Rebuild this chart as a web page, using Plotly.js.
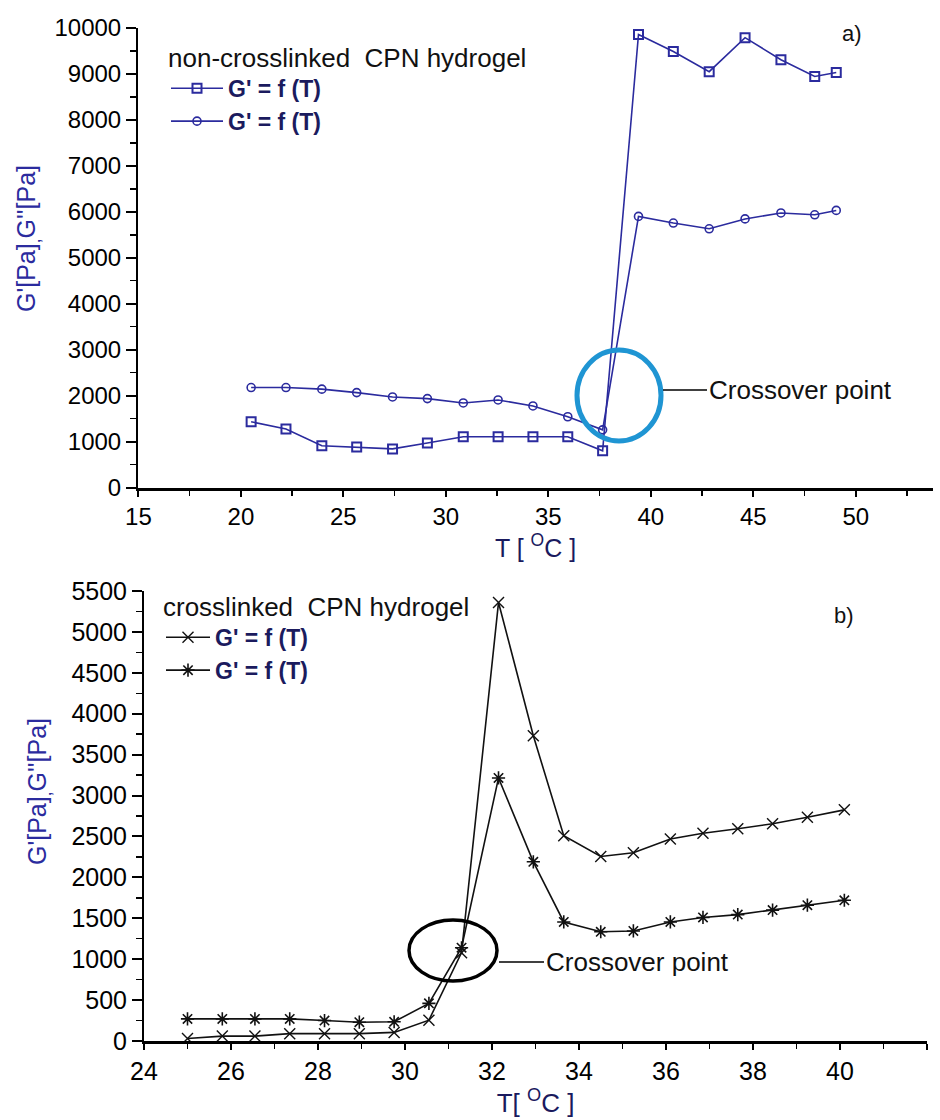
<!DOCTYPE html>
<html>
<head>
<meta charset="utf-8">
<script src="https://cdn.plot.ly/plotly-3.0.1.min.js"></script>
<style>html,body{margin:0;padding:0;background:#fff;}#chart{width:940px;height:1120px;}</style>
</head>
<body>
<div id="chart"></div>
<script>
// ---- panel a) non-crosslinked CPN hydrogel ----
const tempA = [20.5, 22.2, 23.95, 25.65, 27.4, 29.1, 30.85, 32.55, 34.25, 35.95, 37.65, 39.4, 41.1, 42.85, 44.6, 46.35, 48.0, 49.05];
const gSquaresA = [1430, 1275, 910, 880, 840, 970, 1105, 1105, 1105, 1105, 800, 9860, 9490, 9050, 9790, 9310, 8945, 9030];
const gCirclesA = [2175, 2175, 2140, 2065, 1970, 1935, 1840, 1905, 1775, 1540, 1255, 5900, 5755, 5630, 5845, 5975, 5935, 6030];
const seriesNamesA = ["G' = f (T)", "G' = f (T)"];
const legendTitleA = "non-crosslinked\u00A0 CPN hydrogel";

// ---- panel b) crosslinked CPN hydrogel ----
const tempB = [25.0, 25.8, 26.55, 27.35, 28.15, 28.95, 29.75, 30.55, 31.3, 32.15, 32.95, 33.65, 34.5, 35.25, 36.1, 36.85, 37.65, 38.45, 39.25, 40.1];
const gCrossB = [30, 60, 60, 90, 90, 90, 105, 255, 1080, 5360, 3730, 2510, 2255, 2300, 2470, 2540, 2595, 2655, 2735, 2825];
const gStarB = [270, 270, 270, 270, 250, 230, 235, 460, 1140, 3215, 2190, 1455, 1335, 1345, 1455, 1510, 1545, 1600, 1660, 1720];
const seriesNamesB = ["G' = f (T)", "G' = f (T)"];
const legendTitleB = "crosslinked\u00A0 CPN hydrogel";

const ytitle = "G'[Pa]<sub>,</sub>G''[Pa]";
const FONT = "Liberation Sans, Arial, sans-serif";
const NAVY = "#2b2b9e";

const traces = [
  {x: tempA, y: gSquaresA, name: seriesNamesA[0], type: 'scatter', mode: 'lines+markers',
   xaxis: 'x', yaxis: 'y', legend: 'legend',
   line: {color: NAVY, width: 1.6},
   marker: {symbol: 'square-open', size: 9, color: NAVY, line: {width: 2, color: NAVY}}},
  {x: tempA, y: gCirclesA, name: seriesNamesA[1], type: 'scatter', mode: 'lines+markers',
   xaxis: 'x', yaxis: 'y', legend: 'legend',
   line: {color: NAVY, width: 1.6},
   marker: {symbol: 'circle-open', size: 8, color: NAVY, line: {width: 1.6, color: NAVY}}},
  {x: tempB, y: gCrossB, name: seriesNamesB[0], type: 'scatter', mode: 'lines+markers',
   xaxis: 'x2', yaxis: 'y2', legend: 'legend2',
   line: {color: '#111', width: 1.6},
   marker: {symbol: 'x-thin-open', size: 11, color: '#111', line: {width: 1.4, color: '#111'}}},
  {x: tempB, y: gStarB, name: seriesNamesB[1], type: 'scatter', mode: 'lines+markers',
   xaxis: 'x2', yaxis: 'y2', legend: 'legend2',
   line: {color: '#111', width: 1.6},
   marker: {symbol: 'asterisk-open', size: 11, color: '#111', line: {width: 1.6, color: '#111'}}}
];

const W = 940, H = 1120;
const px = v => v / W;
const py = v => 1 - v / H;

const layout = {
  width: W, height: H,
  margin: {l: 0, r: 0, t: 0, b: 0},
  paper_bgcolor: '#fff', plot_bgcolor: '#fff',
  font: {family: FONT, color: '#000', size: 24},
  showlegend: true,
  xaxis: {
    domain: [px(138), px(933)], anchor: 'y', range: [14.98, 53.77],
    tickmode: 'linear', tick0: 15, dtick: 5,
    showline: true, linecolor: '#000', linewidth: 3, showgrid: false, zeroline: false,
    ticks: 'outside', ticklen: 6, tickwidth: 2, tickcolor: '#000',
    minor: {dtick: 2.5, tick0: 15, ticklen: 5, tickwidth: 1.5, tickcolor: '#000', ticks: 'outside', showgrid: false},
    tickfont: {size: 24, color: '#000'},
    title: {text: 'T [ <sup>O</sup>C ]', font: {size: 25, color: '#1a1a5e'}, standoff: 0}
  },
  yaxis: {
    domain: [py(487.5), py(28)], anchor: 'x', range: [0, 10000],
    tickmode: 'linear', tick0: 0, dtick: 1000, tickformat: 'd',
    showline: true, linecolor: '#000', linewidth: 2, showgrid: false, zeroline: false,
    ticks: 'outside', ticklen: 10, tickwidth: 2, tickcolor: '#000',
    minor: {dtick: 500, tick0: 0, ticklen: 6, tickwidth: 1.5, tickcolor: '#000', ticks: 'outside', showgrid: false},
    tickfont: {size: 24, color: '#000'}
  },
  xaxis2: {
    domain: [px(144), px(927)], anchor: 'y2', range: [24, 42],
    tickmode: 'linear', tick0: 24, dtick: 2,
    showline: true, linecolor: '#000', linewidth: 3, showgrid: false, zeroline: false,
    ticks: 'outside', ticklen: 6, tickwidth: 2, tickcolor: '#000',
    minor: {dtick: 1, tick0: 24, ticklen: 5, tickwidth: 1.5, tickcolor: '#000', ticks: 'outside', showgrid: false},
    tickfont: {size: 25, color: '#000'},
    title: {text: 'T[ <sup>O</sup>C ]', font: {size: 26, color: '#1a1a5e'}, standoff: 6}
  },
  yaxis2: {
    domain: [py(1041), py(591)], anchor: 'x2', range: [0, 5500],
    tickmode: 'linear', tick0: 0, dtick: 500, tickformat: 'd',
    showline: true, linecolor: '#000', linewidth: 2, showgrid: false, zeroline: false,
    ticks: 'outside', ticklen: 10, tickwidth: 2, tickcolor: '#000',
    minor: {dtick: 250, tick0: 0, ticklen: 6, tickwidth: 1.5, tickcolor: '#000', ticks: 'outside', showgrid: false},
    tickfont: {size: 25, color: '#000'}
  },
  legend: {
    x: px(166), y: py(33), xanchor: 'left', yanchor: 'top',
    bgcolor: 'rgba(0,0,0,0)', borderwidth: 0,
    title: {text: legendTitleA, font: {size: 26, color: '#111', weight: 'normal'}},
    font: {size: 23, color: '#1b1b5e', weight: 'bold'},
    itemwidth: 52, tracegroupgap: 0
  },
  legend2: {
    x: px(161), y: py(582), xanchor: 'left', yanchor: 'top',
    bgcolor: 'rgba(0,0,0,0)', borderwidth: 0,
    title: {text: legendTitleB, font: {size: 26, color: '#111', weight: 'normal'}},
    font: {size: 23, color: '#1b1b5e', weight: 'bold'},
    itemwidth: 44, tracegroupgap: 0
  },
  shapes: [
    {type: 'circle', xref: 'paper', yref: 'paper', x0: px(577), x1: px(661), y0: py(441), y1: py(350),
     line: {color: '#1f95d3', width: 5}},
    {type: 'line', xref: 'paper', yref: 'paper', x0: px(663), x1: px(707), y0: py(390), y1: py(390),
     line: {color: '#000', width: 1.5}},
    {type: 'circle', xref: 'paper', yref: 'paper', x0: px(409), x1: px(497), y0: py(981), y1: py(920),
     line: {color: '#000', width: 3.5}},
    {type: 'line', xref: 'paper', yref: 'paper', x0: px(499), x1: px(544), y0: py(962), y1: py(962),
     line: {color: '#000', width: 1.5}}
  ],
  annotations: [
    {text: ytitle, xref: 'paper', yref: 'paper', x: px(28), y: py(239), xanchor: 'center', yanchor: 'middle',
     textangle: -90, showarrow: false, font: {size: 25, color: NAVY}},
    {text: ytitle, xref: 'paper', yref: 'paper', x: px(39), y: py(792), xanchor: 'center', yanchor: 'middle',
     textangle: -90, showarrow: false, font: {size: 25, color: NAVY}},
    {text: 'Crossover point', xref: 'paper', yref: 'paper', x: px(707), y: py(390), xanchor: 'left', yanchor: 'middle',
     showarrow: false, font: {size: 26, color: '#111'}},
    {text: 'Crossover point', xref: 'paper', yref: 'paper', x: px(544), y: py(962), xanchor: 'left', yanchor: 'middle',
     showarrow: false, font: {size: 26, color: '#111'}},
    {text: 'a)', xref: 'paper', yref: 'paper', x: px(852), y: py(33), xanchor: 'center', yanchor: 'middle',
     showarrow: false, font: {size: 22, color: '#111'}},
    {text: 'b)', xref: 'paper', yref: 'paper', x: px(844), y: py(615), xanchor: 'center', yanchor: 'middle',
     showarrow: false, font: {size: 22, color: '#111'}}
  ]
};

Plotly.newPlot('chart', traces, layout, {displayModeBar: false, staticPlot: true});
</script>
</body>
</html>
